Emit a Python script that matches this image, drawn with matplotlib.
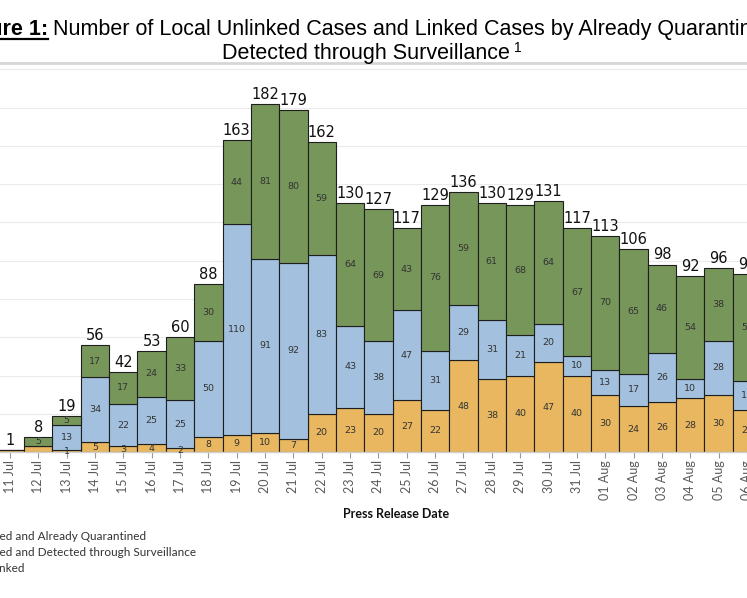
import numpy as np
import matplotlib
matplotlib.use("Agg")
import matplotlib.pyplot as plt
from matplotlib.lines import Line2D

# ---------------------------------------------------------------------------
# Data
# ---------------------------------------------------------------------------
dates = ["11 Jul", "12 Jul", "13 Jul", "14 Jul", "15 Jul", "16 Jul", "17 Jul",
         "18 Jul", "19 Jul", "20 Jul", "21 Jul", "22 Jul", "23 Jul", "24 Jul",
         "25 Jul", "26 Jul", "27 Jul", "28 Jul", "29 Jul", "30 Jul", "31 Jul",
         "01 Aug", "02 Aug", "03 Aug", "04 Aug", "05 Aug", "06 Aug"]
unlinked = [1, 3, 1, 5, 3, 4, 2, 8, 9, 10, 7, 20, 23, 20, 27, 22, 48, 38, 40,
            47, 40, 30, 24, 26, 28, 30, 22]
linked_surveillance = [0, 0, 13, 34, 22, 25, 25, 50, 110, 91, 92, 83, 43, 38,
                       47, 31, 29, 31, 21, 20, 10, 13, 17, 26, 10, 28, 15]
linked_quarantined = [0, 5, 5, 17, 17, 24, 33, 30, 44, 81, 80, 59, 64, 69, 43,
                      76, 59, 61, 68, 64, 67, 70, 65, 46, 54, 38, 56]

series_names = ["Linked and Already Quarantined",
                "Linked and Detected through Surveillance",
                "Unlinked"]
series_colors = ["#76965a", "#a3c1de", "#e8b760"]

# ---------------------------------------------------------------------------
# Figure / axes geometry (pixel based, 747 x 598)
# ---------------------------------------------------------------------------
W, H = 747, 598
fig = plt.figure(figsize=(W / 100, H / 100), dpi=100)

def fx(px):
    return px / W

def fy(py):
    return 1 - py / H

base_py, top_py = 452, 63
ax = fig.add_axes([0, fy(base_py), 1, (base_py - top_py) / H])

x = np.arange(len(dates))
bottoms = np.zeros(len(dates))
stack = [(unlinked, series_colors[2]),
         (linked_surveillance, series_colors[1]),
         (linked_quarantined, series_colors[0])]
totals = np.array(unlinked) + np.array(linked_surveillance) + np.array(linked_quarantined)

for vals, col in stack:
    vals = np.array(vals)
    ax.bar(x, vals, width=1.0, bottom=bottoms, color=col,
           edgecolor="#1e1e1e", linewidth=0.8, zorder=2)
    for i, v in enumerate(vals):
        if v > 0 and (v >= 5 or totals[i] >= 10):
            ax.text(x[i], bottoms[i] + v / 2, str(v), ha="center", va="center",
                    fontsize=6.8, color="#333333", zorder=3)
    bottoms = bottoms + vals

for i, t in enumerate(totals):
    ax.annotate(str(t), (x[i], t), xytext=(0, 1.5), textcoords="offset points",
                ha="center", va="bottom", fontsize=10.5, color="#111111")

# x range so that the visible window matches the cropped reference
ax.set_xlim(-10 / 28.64, (W - 10) / 28.64)
ax.set_ylim(0, (base_py - top_py) / 1.9125)
ax.set_yticks(np.arange(0, 201, 20))
ax.yaxis.grid(True, color="#ebebeb", linewidth=0.8, zorder=0)
ax.set_axisbelow(True)
ax.tick_params(axis="y", left=False, labelleft=False)

ax.set_xticks(x)
ax.set_xticklabels(dates, rotation=90, fontsize=9, color="#5a5a5a",
                   family=["Lato", "DejaVu Sans"])
ax.tick_params(axis="x", length=4, width=0.8, color="#9a9a9a", pad=2)

for side in ["left", "right"]:
    ax.spines[side].set_visible(False)
ax.spines["top"].set_color("#d6d6d6")
ax.spines["top"].set_linewidth(2)
ax.spines["bottom"].set_color("#d0d0d0")
ax.spines["bottom"].set_linewidth(1)

ax.set_xlabel("Press Release Date", fontsize=9, fontweight="bold",
              family=["Lato", "DejaVu Sans"], color="#111111")
ax.xaxis.set_label_coords(396 / W, -(508 - base_py) / (base_py - top_py))

# ---------------------------------------------------------------------------
# Legend (cropped on the left in the reference)
# ---------------------------------------------------------------------------
for k, (name, col) in enumerate(zip(series_names, series_colors)):
    ypx = 537 + 16 * k
    fig.text(fx(-22), fy(ypx), name, ha="left", va="center", fontsize=8.5,
             color="#333333", family=["Lato", "DejaVu Sans"])
    fig.patches.append(plt.Rectangle((fx(-40), fy(ypx + 5)), fx(10), 10 / H,
                                     transform=fig.transFigure, color=col))

# ---------------------------------------------------------------------------
# Title
# ---------------------------------------------------------------------------
tfont = ["Liberation Sans", "DejaVu Sans"]
t_bold = fig.text(fx(48), fy(35), "Figure 1:", ha="right", va="baseline",
                  fontsize=15.5, fontweight="bold", family=tfont)
fig.text(fx(53), fy(35),
         "Number of Local Unlinked Cases and Linked Cases by Already Quarantined and",
         ha="left", va="baseline", fontsize=15.5, family=tfont)
fig.text(fx(222), fy(59.3), "Detected through Surveillance", ha="left",
         va="baseline", fontsize=15.5, family=tfont)
fig.text(fx(514), fy(51.5), "1", ha="left", va="baseline", fontsize=10,
         family=tfont)

fig.canvas.draw()
bb = t_bold.get_window_extent().transformed(fig.transFigure.inverted())
fig.add_artist(Line2D([bb.x0, bb.x1], [fy(39.3), fy(39.3)], color="black",
                      linewidth=1.6, transform=fig.transFigure))

fig.savefig("out.png", dpi=100)
